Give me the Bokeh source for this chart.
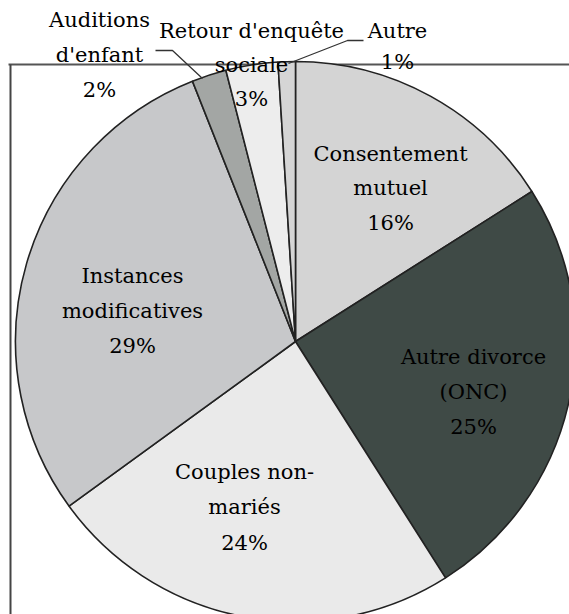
import math
from bokeh.plotting import figure
from bokeh.models import Range1d
from bokeh.core.properties import value
from bokeh.embed import file_html
from bokeh.resources import INLINE

# ---------------- data ----------------
categories = ["Consentement mutuel", "Autre divorce (ONC)", "Couples non-mariés",
              "Instances modificatives", "Auditions d'enfant",
              "Retour d'enquête sociale", "Autre"]
percents = [16, 25, 24, 29, 2, 3, 1]
label_lines = [["Consentement", "mutuel"], ["Autre divorce", "(ONC)"],
               ["Couples non-", "mariés"], ["Instances", "modificatives"],
               ["Auditions", "d'enfant"], ["Retour d'enquête", "sociale"],
               ["Autre"]]

# ---------------- style / layout ----------------
colors = ["#d4d4d4", "#3f4a46", "#eaeaea", "#c7c8ca", "#a3a6a4", "#ededed", "#d5d5d5"]
W, H = 569, 614


def Y(sy):
    # screen y (page px) -> data y
    return H - sy


cx, cy, R = 295, 341, 280
# (center x, first line center y, line spacing) in page px
label_anchor = [(390, 153, 34.5), (473, 356, 35), (244, 471, 35.5), (132, 275, 35),
                (99, 19, 35), (251, 30, 34), (397, 30, 31)]

p = figure(width=W, height=H, output_backend="svg", toolbar_location=None,
           x_range=Range1d(0, W), y_range=Range1d(0, H),
           min_border=0, outline_line_color=None, background_fill_color="white",
           border_fill_color="white")
p.axis.visible = False
p.xgrid.visible = False
p.ygrid.visible = False

# chart-area frame (top and left edges)
p.line([8, 569], [Y(64), Y(64)], line_color="#555555", line_width=2)
p.line([10, 10], [Y(64), Y(620)], line_color="#444444", line_width=2)

# pie
cum = [0]
for v in percents:
    cum.append(cum[-1] + v)
total = cum[-1]
starts = [math.pi / 2 - 2 * math.pi * cum[i] / total for i in range(len(percents))]
ends = [math.pi / 2 - 2 * math.pi * cum[i + 1] / total for i in range(len(percents))]
p.wedge(x=[cx] * len(percents), y=[Y(cy)] * len(percents), radius=R,
        start_angle=starts, end_angle=ends, direction="clock",
        fill_color=colors, line_color="#222222", line_width=1.6)

# leader lines
p.line([155, 172, 202], [Y(50), Y(50), Y(78)], line_color="#333333", line_width=1.3)
p.line([288, 347, 363], [Y(63), Y(40), Y(40)], line_color="#333333", line_width=1.3)

# labels
tx, ty, tt = [], [], []
for i, lines in enumerate(label_lines):
    x0, y0, dy = label_anchor[i]
    all_lines = lines + [f"{percents[i]}%"]
    for k, s in enumerate(all_lines):
        tx.append(x0)
        ty.append(Y(y0 + k * dy))
        tt.append(s)
p.text(x=tx, y=ty, text=tt, text_align="center", text_baseline="middle",
       text_font=value("DejaVu Serif"),
       text_font_size="21px", text_color="#000000")

open("out.html", "w").write(file_html(p, INLINE))
